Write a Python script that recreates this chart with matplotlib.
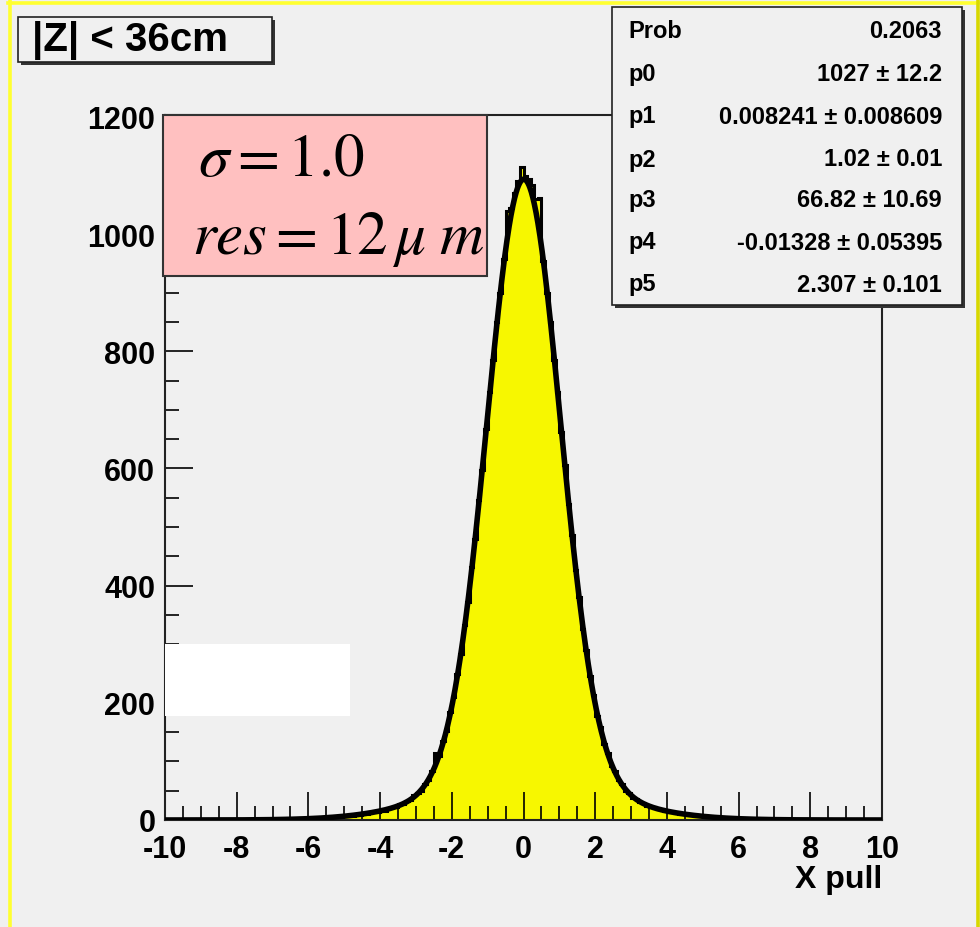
import numpy as np
import matplotlib
matplotlib.use("Agg")
import matplotlib.pyplot as plt
from matplotlib.patches import Rectangle
from matplotlib.lines import Line2D
from matplotlib.ticker import MultipleLocator

plt.rcParams['font.family'] = ['Liberation Sans', 'DejaVu Sans']
plt.rcParams['mathtext.fontset'] = 'stix'
plt.rcParams['axes.unicode_minus'] = False

# ---------------- data ----------------
bin_edges_range = (-10.0, 10.0)
n_bins = 200
counts_neg = [
    1, 0, 1, 2, 1, 0, 1, 1, 0, 2,
    1, 1, 0, 1, 2, 1, 0, 1, 1, 2,
    0, 1, 1, 2, 1, 0, 1, 2, 1, 1,
    2, 1, 2, 1, 3, 2, 2, 3, 2, 3,
    3, 2, 4, 3, 5, 4, 6, 5, 6, 7,
    7, 8, 7, 10, 9, 12, 11, 13, 15, 14,
    17, 16, 20, 22, 22, 27, 27, 33, 34, 42,
    46, 50, 62, 68, 84, 115, 110, 135, 152, 185,
    210, 250, 283, 333, 372, 432, 480, 546, 598, 668,
    730, 785, 850, 900, 958, 1040, 1045, 1070, 1090, 1115,
]
counts_pos = [
    1100, 1094, 1084, 1060, 1062, 955, 900, 850, 786, 730,
    662, 606, 540, 487, 426, 380, 326, 290, 245, 214,
    178, 158, 130, 114, 93, 83, 68, 61, 50, 46,
    38, 36, 30, 29, 24, 22, 22, 18, 18, 15,
    14, 14, 12, 11, 10, 10, 8, 9, 7, 7,
    6, 5, 5, 4, 5, 3, 3, 4, 2, 3,
    2, 2, 1, 2, 1, 1, 2, 1, 1, 0,
    1, 0, 1, 1, 0, 1, 2, 1, 0, 1,
    1, 0, 1, 1, 2, 0, 1, 1, 0, 1,
    1, 1, 0, 2, 1, 0, 1, 1, 0, 1,
]
counts = counts_neg + counts_pos

# fit parameters (double gaussian) as shown in stats box
fit_p = [1027, 0.008241, 1.02, 66.82, -0.01328, 2.307]

stats_labels = ["Prob", "p0", "p1", "p2", "p3", "p4", "p5"]
stats_values = ["0.2063", "1027 \u00b1 12.2", "0.008241 \u00b1 0.008609",
                "1.02 \u00b1 0.01", "66.82 \u00b1 10.69",
                "-0.01328 \u00b1 0.05395", "2.307 \u00b1 0.101"]

x_ticks = [-10, -8, -6, -4, -2, 0, 2, 4, 6, 8, 10]
y_ticks = [0, 200, 400, 600, 800, 1000, 1200]

title_text = "|Z| < 36cm"
xlabel_text = "X pull"
sigma_text = r"$\sigma = 1.0$"
res_text = r"$res = 12\,\mu\;m$"

# ---------------- figure ----------------
W, H = 980, 928
BG = '#f0f0f0'
fig = plt.figure(figsize=(W / 100, H / 100), dpi=100, facecolor=BG)


def fx(px):
    return px / W


def fy(py):
    return 1 - py / H


def rect_px(x0, y0, x1, y1, **kw):
    r = Rectangle((fx(x0), fy(y1)), fx(x1) - fx(x0), fy(y0) - fy(y1),
                  transform=fig.transFigure, **kw)
    fig.add_artist(r)
    return r


ax_l, ax_r, ax_t, ax_b = 165, 882, 116, 821
ax = fig.add_axes([fx(ax_l), fy(ax_b), fx(ax_r) - fx(ax_l), fy(ax_t) - fy(ax_b)])
ax.set_facecolor(BG)

edges = np.linspace(bin_edges_range[0], bin_edges_range[1], n_bins + 1)
ax.stairs(counts, edges, fill=True, color='#f7f700', zorder=1)
ax.stairs(counts, edges, fill=False, color='black', linewidth=2.2, zorder=2)

xf = np.linspace(-10, 10, 2001)
p0, p1, p2, p3, p4, p5 = fit_p
yf = p0 * np.exp(-0.5 * ((xf - p1) / p2) ** 2) + p3 * np.exp(-0.5 * ((xf - p4) / p5) ** 2)
ax.plot(xf, yf, color='black', linewidth=4.0, zorder=3)

ax.set_xlim(-10, 10)
ax.set_ylim(0, 1203.4)
ax.set_xticks(x_ticks)
ax.set_yticks(y_ticks)
ax.xaxis.set_minor_locator(MultipleLocator(0.5))
ax.yaxis.set_minor_locator(MultipleLocator(50))
ax.tick_params(which='major', direction='in', length=20, width=1.2, top=False, right=False)
ax.tick_params(which='minor', direction='in', length=10, width=1.2, top=False, right=False)
ax.tick_params(axis='y', which='major', pad=7)
ax.tick_params(axis='x', which='major', pad=10)
for lab in ax.get_xticklabels() + ax.get_yticklabels():
    lab.set_fontsize(22)
    lab.set_fontweight('bold')
for s in ax.spines.values():
    s.set_linewidth(1.5)
    s.set_color('#222222')

fig.text(fx(882), fy(880), xlabel_text, ha='right', va='center',
         fontsize=23, fontweight='bold')

# yellow frame lines
fig.add_artist(Line2D([fx(8), fx(980)], [fy(3.5), fy(3.5)], color='#ffff30',
                      linewidth=2.6, transform=fig.transFigure))
fig.add_artist(Line2D([fx(9.5), fx(9.5)], [fy(2), fy(928)], color='#ffff30',
                      linewidth=2.6, transform=fig.transFigure))
fig.add_artist(Line2D([fx(978), fx(978)], [fy(2), fy(928)], color='#d8d800',
                      linewidth=2.6, transform=fig.transFigure))

# white rectangle
rect_px(165, 645, 350, 717, facecolor='white', edgecolor='none', zorder=5)

# pink box
rect_px(163, 116, 487, 277, facecolor='#ffc0c0', edgecolor='#333333',
        linewidth=1.5, zorder=5)
fig.text(fx(198), fy(176), sigma_text, ha='left', va='baseline',
         fontsize=44, zorder=6)
fig.text(fx(192), fy(254), res_text, ha='left', va='baseline',
         fontsize=44, zorder=6)

# title box with shadow
rect_px(21, 21, 275, 66, facecolor='#333333', edgecolor='none', zorder=5)
rect_px(18, 18, 272, 63, facecolor=BG, edgecolor='#222222', linewidth=1.2, zorder=6)
fig.text(fx(32), fy(41), title_text, ha='left', va='center',
         fontsize=29, fontweight='bold', zorder=7)

# stats box with shadow
rect_px(615, 11, 965, 309, facecolor='#333333', edgecolor='none', zorder=5)
rect_px(612, 8, 962, 306, facecolor=BG, edgecolor='#222222', linewidth=1.2, zorder=6)
row_y = [32, 75, 117, 160, 201, 243, 285]
for lab, val, yy in zip(stats_labels, stats_values, row_y):
    fig.text(fx(628), fy(yy), lab, ha='left', va='center', fontsize=17,
             fontweight='bold', zorder=7)
    fig.text(fx(942), fy(yy), val, ha='right', va='center', fontsize=17,
             fontweight='bold', zorder=7)

fig.savefig('out.png', dpi=100, facecolor=BG)
